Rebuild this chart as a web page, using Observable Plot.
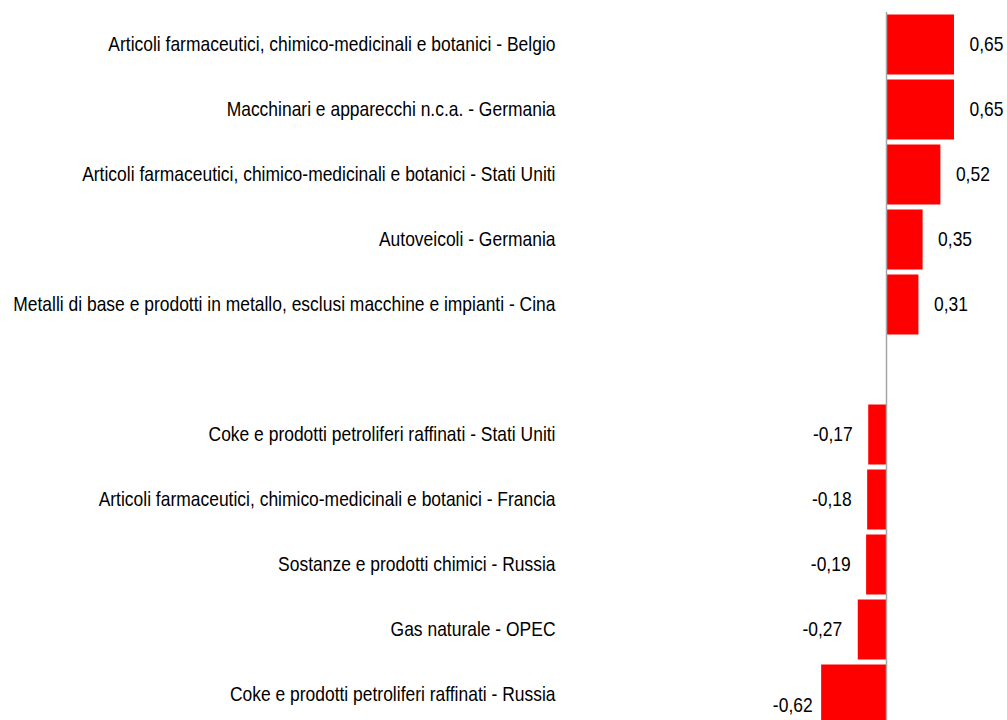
<!DOCTYPE html>
<html>
<head>
<meta charset="utf-8">
<script src="https://cdn.jsdelivr.net/npm/d3@7"></script>
<script src="https://cdn.jsdelivr.net/npm/@observablehq/plot@0.6"></script>
<style>
  html, body { margin: 0; padding: 0; background: #fff; overflow: hidden; }
  #chart svg { display: block; }
</style>
</head>
<body>
<div id="chart"></div>
<script>
const categories = [
  "Articoli farmaceutici, chimico-medicinali e botanici - Belgio",
  "Macchinari e apparecchi n.c.a. - Germania",
  "Articoli farmaceutici, chimico-medicinali e botanici - Stati Uniti",
  "Autoveicoli - Germania",
  "Metalli di base e prodotti in metallo, esclusi macchine e impianti - Cina",
  "Coke e prodotti petroliferi raffinati - Stati Uniti",
  "Articoli farmaceutici, chimico-medicinali e botanici - Francia",
  "Sostanze e prodotti chimici - Russia",
  "Gas naturale - OPEC",
  "Coke e prodotti petroliferi raffinati - Russia"
];
const values = [0.65, 0.65, 0.52, 0.35, 0.31, -0.17, -0.18, -0.19, -0.27, -0.62];

const data = categories.map((c, i) => ({category: c, value: values[i]}));
// band domain with an empty slot between positive and negative groups
const gap = " ";
const domain = [...categories.slice(0, 5), gap, ...categories.slice(5)];

const zeroX = 886, pxPerUnit = 104.6;
const fmt = v => v.toFixed(2).replace(".", ",");
const font = "'Liberation Sans', Arial, sans-serif";
const minV = d3.min(values);

const chart = Plot.plot({
  width: 1007,
  height: 720,
  marginTop: 12,
  marginBottom: 0,
  marginLeft: 555,
  marginRight: 0,
  style: {fontFamily: font, background: "#fff"},
  x: {domain: [-0.62, 0.65], range: [zeroX - 0.62 * pxPerUnit, zeroX + 0.65 * pxPerUnit], axis: null},
  y: {domain, range: [11.5, 11.5 + 65 * 11], padding: 0, axis: null},
  marks: [
    Plot.barX(data, {x: "value", y: "category", fill: "#ff0000", insetTop: 2.5, insetBottom: 2.5}),
    Plot.ruleX([0], {stroke: "#a6a6a6", strokeWidth: 1.5}),
    Plot.text(data, {y: "category", text: "category", frameAnchor: "left", textAnchor: "end", fontSize: 20, fill: "#000"}),
    Plot.text(data.filter(d => d.value >= 0), {x: "value", y: "category", text: d => fmt(d.value), textAnchor: "start", dx: 15, fontSize: 20, fill: "#000"}),
    Plot.text(data.filter(d => d.value < 0 && d.value > minV), {x: "value", y: "category", text: d => fmt(d.value), textAnchor: "end", dx: -16, fontSize: 20, fill: "#000"}),
    Plot.text(data.filter(d => d.value === minV), {x: "value", y: "category", text: d => fmt(d.value), textAnchor: "end", dx: -9, dy: 11, fontSize: 20, fill: "#000"})
  ]
});
// condensed look of the original labels
chart.querySelectorAll("text").forEach(t => {
  const tr = t.getAttribute("transform") || "";
  t.setAttribute("transform", (tr + " scale(0.873,1)").trim());
});
document.getElementById("chart").append(chart);
</script>
</body>
</html>
